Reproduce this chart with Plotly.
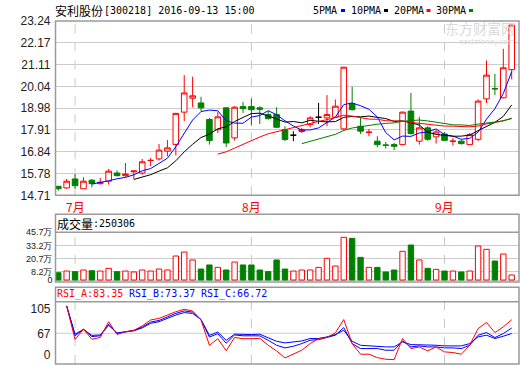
import plotly.graph_objects as go
import pandas as pd

W, H = 520, 365


def py(p):
    return 1 - p / H


def px(p):
    return p / W


# ---------------- data ----------------
dates = [
    "2016-06-29", "2016-06-30",
    "2016-07-01", "2016-07-04", "2016-07-05", "2016-07-06", "2016-07-07", "2016-07-08",
    "2016-07-11", "2016-07-12", "2016-07-13", "2016-07-14", "2016-07-15",
    "2016-07-18", "2016-07-19", "2016-07-20", "2016-07-21", "2016-07-22",
    "2016-07-25", "2016-07-26", "2016-07-27", "2016-07-28", "2016-07-29",
    "2016-08-01", "2016-08-02", "2016-08-03", "2016-08-04", "2016-08-05",
    "2016-08-08", "2016-08-09", "2016-08-10", "2016-08-11", "2016-08-12",
    "2016-08-15", "2016-08-16", "2016-08-17", "2016-08-18", "2016-08-19",
    "2016-08-22", "2016-08-23", "2016-08-24", "2016-08-25", "2016-08-26",
    "2016-08-29", "2016-08-30", "2016-08-31",
    "2016-09-01", "2016-09-02", "2016-09-05", "2016-09-06", "2016-09-07",
    "2016-09-08", "2016-09-09", "2016-09-12", "2016-09-13",
]
opens = [15.15, 15.07, 15.51, 15.03, 15.45, 15.28, 15.40, 15.80, 15.67, 15.86,
         15.80, 16.41, 16.49, 16.87, 17.20, 18.78, 19.46, 19.23, 18.42, 17.92,
         18.99, 17.52, 19.05, 19.05, 18.99, 18.66, 18.66, 17.92, 17.65, 17.83,
         18.17, 18.53, 18.50, 18.53, 17.96, 19.19, 18.09, 17.79, 17.36, 17.17,
         17.19, 17.19, 18.83, 17.36, 18.01, 17.57, 17.71, 17.35, 17.36, 17.19,
         17.45, 19.43, 19.93, 19.48, 20.86]
highs = [15.16, 15.51, 15.75, 15.59, 15.51, 15.56, 16.00, 15.93, 16.29, 15.92,
         16.49, 16.54, 17.22, 17.41, 18.74, 20.59, 20.51, 19.53, 18.50, 18.78,
         19.00, 19.07, 19.28, 19.45, 19.07, 18.83, 19.02, 18.09, 17.85, 18.01,
         18.58, 19.23, 19.61, 19.40, 20.99, 20.02, 18.53, 17.96, 17.60, 17.32,
         17.27, 18.80, 19.72, 18.55, 18.09, 17.92, 17.80, 17.52, 17.44, 17.76,
         19.40, 21.31, 20.65, 21.88, 23.04]
lows = [14.94, 15.03, 15.03, 15.02, 15.10, 15.23, 15.23, 15.64, 15.61, 15.51,
        15.72, 16.13, 16.41, 16.62, 16.66, 18.34, 19.02, 18.83, 17.19, 17.76,
        17.08, 17.39, 18.74, 18.12, 18.20, 18.42, 18.01, 17.36, 17.36, 17.76,
        18.04, 18.20, 18.09, 18.50, 17.88, 18.86, 17.71, 17.60, 17.06, 17.00,
        16.92, 17.16, 17.68, 17.19, 17.38, 17.24, 17.38, 17.14, 17.19, 17.17,
        17.36, 19.23, 19.61, 19.45, 20.38]
closes = [15.03, 15.40, 15.18, 15.40, 15.28, 15.35, 15.89, 15.67, 15.75, 15.90,
          16.35, 16.42, 16.92, 17.03, 18.72, 19.72, 19.58, 18.99, 17.39, 18.55,
          17.27, 19.02, 18.95, 18.90, 18.92, 18.46, 18.04, 17.44, 17.65, 17.92,
          18.50, 18.53, 18.66, 19.07, 20.98, 18.90, 17.85, 17.80, 17.19, 17.16,
          17.11, 18.78, 17.73, 18.01, 17.45, 17.81, 17.40, 17.36, 17.24, 17.68,
          19.32, 20.59, 19.92, 20.95, 23.04]
# volume in 万 (10,000 shares)
volumes = [7.0, 8.6, 8.0, 9.6, 8.9, 8.6, 11.2, 8.0, 8.6, 7.7,
           9.6, 8.6, 10.5, 9.6, 23.0, 26.8, 19.2, 10.5, 14.4, 12.1,
           9.6, 17.2, 14.4, 14.4, 9.6, 8.0, 19.2, 10.5, 8.6, 9.6,
           9.6, 12.1, 20.8, 13.4, 40.9, 39.9, 21.7, 12.1, 12.1, 7.7,
           9.6, 27.5, 33.5, 19.2, 11.2, 10.2, 8.6, 8.6, 7.7, 8.6,
           32.6, 29.4, 18.2, 24.9, 4.8]
rsi_a = [None, 100, 59.5, 72, 59.8, 62, 81, 65.5, 69, 70.5, 76, 83, 85, 89, 93,
         96, 94, 83, 52.5, 60.5, 46, 62, 60.5, 60.5, 61, 52.6, 45.8, 37.3, 41.8,
         46.6, 54.6, 60.7, 61.9, 67.5, 83.6, 54.6, 41.8, 41.8, 37.7, 35.7, 35.3,
         60.7, 48.6, 50.6, 45.8, 50.6, 44.6, 43.8, 41.8, 52.6, 72.7, 80.0, 67.9,
         74.7, 83.35]
rsi_b = [None, 100, 64, 72, 63, 64, 78, 67, 69, 70.5, 74.5, 80.5, 82.5, 87, 91,
         94, 92.5, 83.5, 62.5, 66.5, 55, 65, 64, 64, 63.9, 58.6, 52.6, 49.4, 51.4,
         54.6, 58.6, 59.4, 61.9, 64.7, 73.9, 54.6, 48.6, 48.6, 48.6, 46.6, 46.6,
         57.8, 50.6, 51.8, 50.6, 50.6, 49.4, 49.4, 48.6, 52.6, 64.7, 67.9, 61.9,
         66.7, 73.37]
rsi_c = [None, 100, 66, 71.5, 64.5, 65, 76.5, 67.5, 69, 70, 73.5, 79, 81, 85, 89,
         92, 91, 83.5, 64.5, 68.5, 58.5, 66, 65.5, 65.5, 65.9, 61.9, 57.4, 55.4,
         56.6, 57.8, 60.7, 60.7, 62.7, 65.5, 70.7, 57.4, 52.6, 51.8, 51.8, 50.6,
         50.6, 56.6, 53.4, 53.4, 52.6, 52.6, 51.8, 51.8, 51.8, 54.6, 62.7, 64.7,
         60.7, 63.5, 66.72]

price_ticks = [14.71, 15.78, 16.84, 17.91, 18.98, 20.04, 21.11, 22.17, 23.24]
vol_ticks = [0, 8.2, 20.7, 33.2, 45.7]
vol_tick_text = ["0", "8.2万", "20.7万", "33.2万", "45.7万"]
rsi_tick_text = ["0", "67", "105"]
month_starts = ["2016-07-01", "2016-08-01", "2016-09-01"]
month_labels = ["7月", "8月", "9月"]
title_name = "安利股份"
title_info = "[300218] 2016-09-13 15:00"
vol_header_value = "250306"

RED = "#ff0000"
GREEN = "#008000"
BLUE = "#0000ff"
GRID = "#cccccc"
BORDER = "#9a9a9a"
MONO = "DejaVu Sans Mono"
CJK = "Noto Sans CJK SC"
TICKF = "Liberation Sans"

close_s = pd.Series(closes)
ma_lines = [(5, BLUE), (10, "#000000"), (20, RED), (30, GREEN)]

fig = go.Figure()


def pick(mask, arr):
    return [v for v, m in zip(arr, mask) if m]


nonflat = [o != c for o, c in zip(opens, closes)]
flat = [not m for m in nonflat]
fig.add_trace(go.Candlestick(
    x=pick(nonflat, dates), open=pick(nonflat, opens), high=pick(nonflat, highs),
    low=pick(nonflat, lows), close=pick(nonflat, closes),
    increasing=dict(line=dict(color=RED, width=1), fillcolor="#ffffff"),
    decreasing=dict(line=dict(color=GREEN, width=1), fillcolor=GREEN),
    whiskerwidth=0, xaxis="x", yaxis="y", showlegend=False, hoverinfo="skip"))
fig.add_trace(go.Candlestick(
    x=pick(flat, dates), open=pick(flat, opens), high=pick(flat, highs),
    low=pick(flat, lows), close=pick(flat, closes),
    increasing=dict(line=dict(color="#000000", width=1), fillcolor="#000000"),
    decreasing=dict(line=dict(color="#000000", width=1), fillcolor="#000000"),
    whiskerwidth=0, xaxis="x", yaxis="y", showlegend=False, hoverinfo="skip"))

for n, col in ma_lines:
    fig.add_trace(go.Scatter(x=dates, y=close_s.rolling(n).mean(), mode="lines",
                             line=dict(color=col, width=1), xaxis="x", yaxis="y",
                             showlegend=False, hoverinfo="skip"))

# volume
up = [c >= o for o, c in zip(opens, closes)]
fig.add_trace(go.Bar(
    x=dates, y=volumes, width=0.64,
    marker=dict(color=["#ffffff" if u else GREEN for u in up],
                line=dict(color=[RED if u else GREEN for u in up], width=1)),
    xaxis="x2", yaxis="y2", showlegend=False, hoverinfo="skip"))

# RSI
for arr, col in [(rsi_c, BLUE), (rsi_b, BLUE), (rsi_a, RED)]:
    fig.add_trace(go.Scatter(x=dates, y=arr, mode="lines", line=dict(color=col, width=1),
                             xaxis="x3", yaxis="y3", showlegend=False, hoverinfo="skip"))

XDOM = [px(55.5), px(519)]
XR = [-0.33, 54.87]
common_x = dict(domain=XDOM, type="category", categoryorder="array", categoryarray=dates,
                range=XR, showticklabels=False, showgrid=False, zeroline=False,
                showline=False, fixedrange=True, automargin=False)

tickfont = dict(family=TICKF, size=12, color="#222222")
fig.update_layout(
    width=W, height=H, margin=dict(l=0, r=0, t=0, b=0, autoexpand=False),
    paper_bgcolor="#ffffff", plot_bgcolor="rgba(0,0,0,0)",
    boxgap=0.3, boxgroupgap=0.05,
    xaxis=dict(anchor="y", rangeslider=dict(visible=False), **common_x),
    xaxis2=dict(anchor="y2", matches="x", **common_x),
    xaxis3=dict(anchor="y3", matches="x", **common_x),
    yaxis=dict(domain=[py(195.3), py(21)], range=[14.71, 23.24], tickvals=price_ticks,
               ticktext=["%.2f" % v for v in price_ticks], showgrid=True, gridcolor=GRID,
               gridwidth=1, zeroline=False, ticks="", tickfont=tickfont,
               ticklabelstandoff=4, automargin=False, fixedrange=True),
    yaxis2=dict(domain=[py(282), py(232.3)], range=[-1.9, 45.7], tickvals=vol_ticks,
                ticktext=vol_tick_text, showgrid=True, gridcolor=GRID, zeroline=False,
                ticks="", tickfont=dict(family=TICKF, size=9, color="#222222"),
                ticklabelstandoff=2, automargin=False, fixedrange=True),
    yaxis3=dict(domain=[py(364), py(301.7)], range=[30.0, 105.1], tickvals=[40.8, 67, 96.3],
                ticktext=rsi_tick_text, showgrid=False, zeroline=False, ticks="",
                tickfont=tickfont, ticklabelstandoff=4, automargin=False, fixedrange=True),
)

shapes = []
# panel borders
for (t, b) in [(21, 195.3), (214.3, 282), (287.3, 364)]:
    shapes.append(dict(type="rect", xref="paper", yref="paper", x0=px(55.5), x1=px(519),
                       y0=py(b), y1=py(t), line=dict(color=BORDER, width=1.5)))
for yy in [232.3, 301.7]:
    shapes.append(dict(type="line", xref="paper", yref="paper", x0=px(55.5), x1=px(519),
                       y0=py(yy), y1=py(yy), line=dict(color=BORDER, width=1.5)))
# RSI 67 grid line
shapes.append(dict(type="line", xref="paper", yref="y3", x0=px(55.5), x1=px(519),
                   y0=67, y1=67, line=dict(color=GRID, width=1), layer="below"))
# month dashed lines
for d in month_starts:
    for yr in ["y domain", "y2 domain", "y3 domain"]:
        shapes.append(dict(type="line", xref="x", yref=yr, x0=d, x1=d, y0=0, y1=1,
                           line=dict(color="#c8c8c8", width=1, dash="dash"), layer="below"))
# legend swatches
for x0, col in [(341, BLUE), (384, "#000000"), (426.5, RED), (469, GREEN)]:
    shapes.append(dict(type="rect", xref="paper", yref="paper", x0=px(x0), x1=px(x0 + 4),
                       y0=py(12), y1=py(9), fillcolor=col, line=dict(width=0)))
fig.update_layout(shapes=shapes)

ann = []


def text(x, y, s, family, size, color, xanchor="left", **kw):
    ann.append(dict(xref="paper", yref="paper", x=px(x), y=py(y), text=s, showarrow=False,
                    xanchor=xanchor, yanchor="middle", font=dict(family=family, size=size,
                                                                 color=color),
                    borderpad=0, borderwidth=0, **kw))


text(55, 10, title_name, CJK, 12, "#000000")
text(103.5, 10, title_info, MONO, 10, "#000000")
for x, s in [(312.5, "5PMA"), (351, "10PMA"), (393.5, "20PMA"), (436, "30PMA")]:
    text(x, 10, s, MONO, 10, "#000000")
text(56.5, 223, "成交量", CJK, 12, "#000000")
text(92.5, 223, ":" + vol_header_value, MONO, 10, "#000000")
text(56.5, 294, "RSI_A:%.2f" % rsi_a[-1], MONO, 10, RED)
text(128.5, 294, "RSI_B:%.2f" % rsi_b[-1], MONO, 10, BLUE)
text(200.5, 294, "RSI_C:%.2f" % rsi_c[-1], MONO, 10, BLUE)
# watermark
text(515, 28, "东方财富网", CJK, 14, "#d9d9d9", xanchor="right")
text(514, 42, "eastmoney.com", "DejaVu Sans", 7, "#d9d9d9", xanchor="right")
for d, s in zip(month_starts, month_labels):
    ann.append(dict(xref="x", yref="paper", x=d, y=py(206), text=s, showarrow=False,
                    xanchor="center", yanchor="middle",
                    font=dict(family=CJK, size=12, color=RED)))
fig.update_layout(annotations=ann)

fig.write_html("out.html", config={"displayModeBar": False, "staticPlot": True},
               post_script="document.body.style.margin='0';document.body.style.overflow='hidden';")
